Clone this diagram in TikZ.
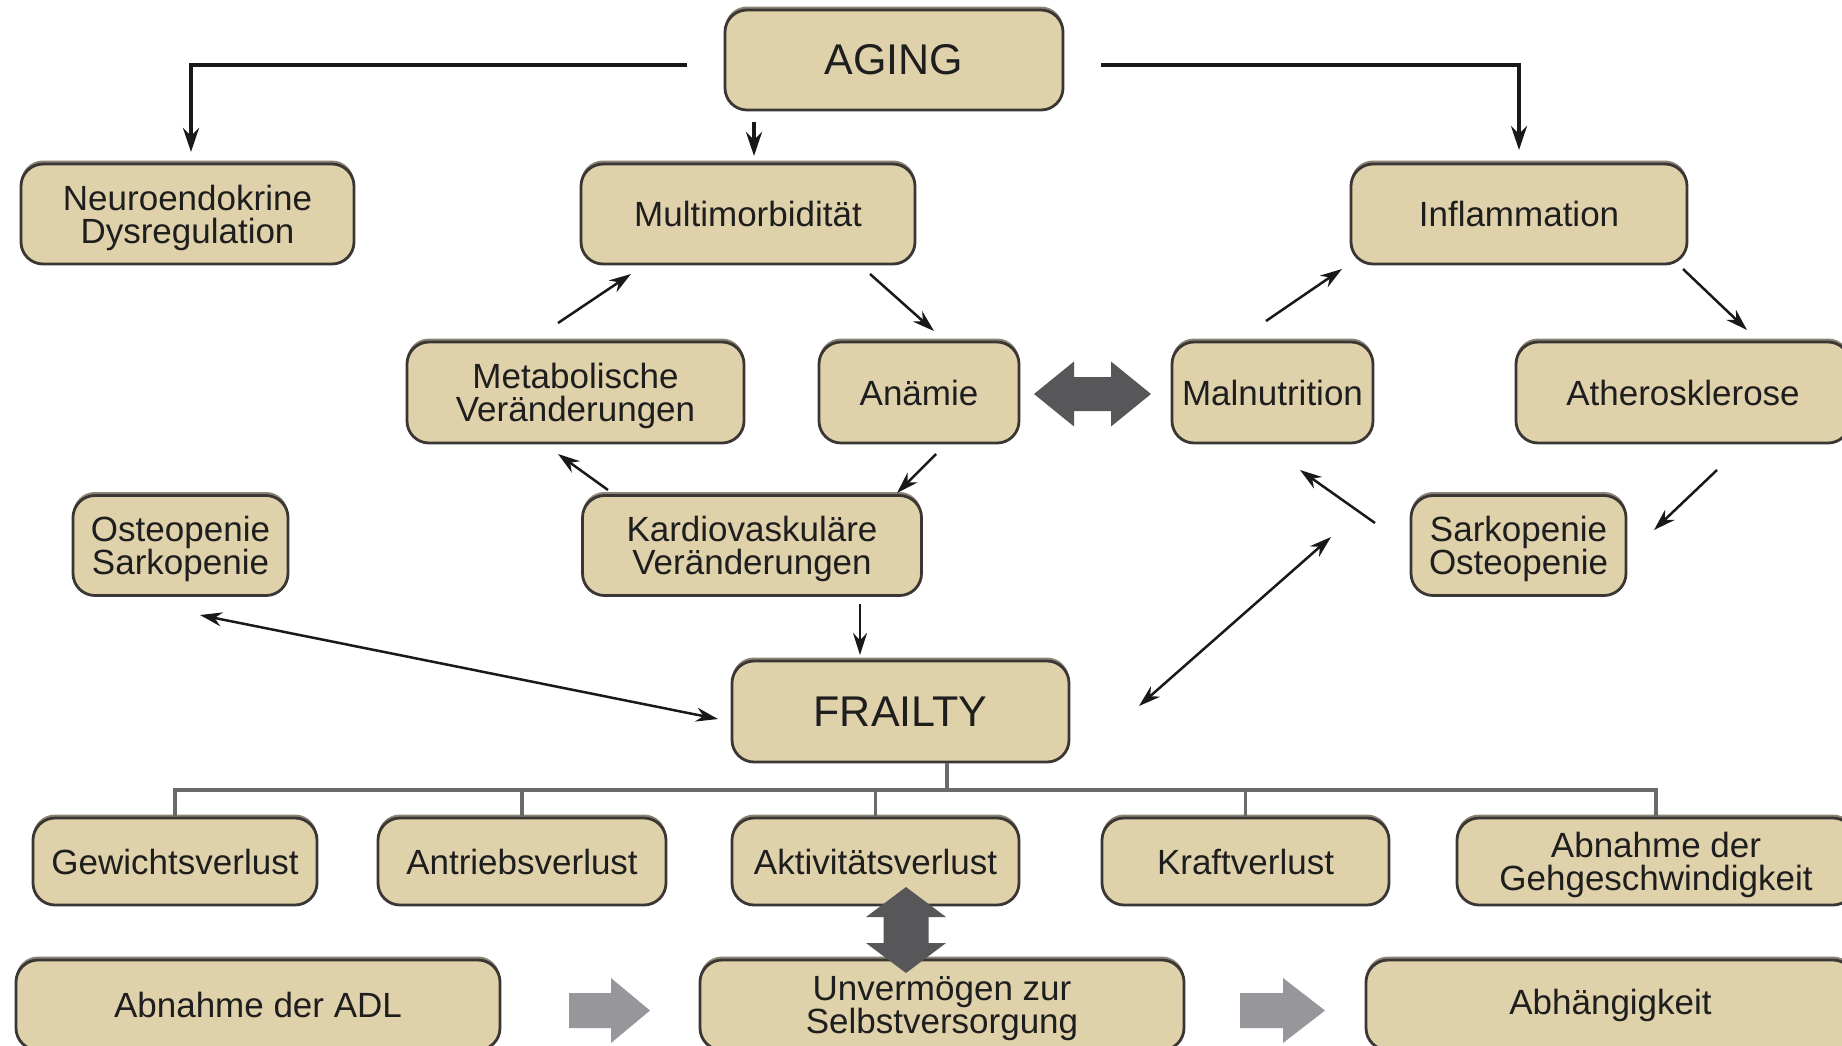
\documentclass[tikz,border=0pt]{standalone}
\usepackage{fontspec}
\setmainfont{Liberation Sans}
\usetikzlibrary{arrows.meta,shadows}
\definecolor{boxfill}{HTML}{DFD1AA}
\definecolor{boxline}{HTML}{3A3633}
\definecolor{shade}{HTML}{8C8475}
\definecolor{txt}{HTML}{1E1E1E}
\definecolor{bigarrow}{HTML}{57575A}
\definecolor{blockarrow}{HTML}{97979B}
\definecolor{treeline}{HTML}{6A6A6A}
\tikzset{
  box/.style={draw=boxline, line width=2.8pt, fill=boxfill, rounded corners=22pt,
    inner sep=0pt, align=center, text=txt, font=\fontsize{35}{33}\selectfont,
    drop shadow={shadow xshift=0pt, shadow yshift=3.5pt, fill=shade, opacity=1}},
  twoline/.style={text depth=-3pt},
  bigtext/.style={font=\fontsize{43}{46}\selectfont},
  arr/.style={line width=2.5pt, draw=black!90, -{Stealth[length=22pt,width=14pt]}},
  darr/.style={line width=2.5pt, draw=black!90, {Stealth[length=22pt,width=14pt]}-{Stealth[length=22pt,width=14pt]}},
  toparr/.style={line width=4pt, draw=black!90, -{Stealth[length=24pt,width=16pt]}},
  tree/.style={line width=3.5pt, draw=treeline},
}
\begin{document}
\begin{tikzpicture}[x=1pt,y=-1pt]
\useasboundingbox (0,0) rectangle (1842,1045);
\fill[white] (0,0) rectangle (1842,1045);
\clip (0,0) rectangle (1842,1045);

% nodes
\node[box,bigtext,minimum width=338pt,minimum height=100pt] (aging) at (894,60) {AGING};
\node[box,twoline,minimum width=333pt,minimum height=100pt] (neuro) at (187.5,214) {Neuroendokrine\\Dysregulation};
\node[box,minimum width=334pt,minimum height=100pt] (multi) at (748,214) {Multimorbidität};
\node[box,minimum width=336pt,minimum height=100pt] (infl) at (1519,214) {Inflammation};
\node[box,twoline,minimum width=337pt,minimum height=101pt] (meta) at (575.5,392.5) {Metabolische\\Veränderungen};
\node[box,minimum width=200pt,minimum height=101pt] (anae) at (919,392.5) {Anämie};
\node[box,minimum width=201pt,minimum height=101pt] (maln) at (1272.5,392.5) {Malnutrition};
\node[box,minimum width=334pt,minimum height=101pt] (athe) at (1683,392.5) {Atherosklerose};
\node[box,twoline,minimum width=215pt,minimum height=100pt] (osteo) at (180.5,545.5) {Osteopenie\\Sarkopenie};
\node[box,twoline,minimum width=339pt,minimum height=100pt] (kardio) at (752,545.5) {Kardiovaskuläre\\Veränderungen};
\node[box,twoline,minimum width=215pt,minimum height=100pt] (sarko) at (1518.5,545.5) {Sarkopenie\\Osteopenie};
\node[box,bigtext,minimum width=337pt,minimum height=101pt] (frailty) at (900.5,711.5) {FRAILTY};

\node[box,minimum width=284pt,minimum height=87pt] (gew) at (175,861.5) {Gewichtsverlust};
\node[box,minimum width=288pt,minimum height=87pt] (antr) at (522,861.5) {Antriebsverlust};
\node[box,minimum width=287pt,minimum height=87pt] (akti) at (875.5,861.5) {Aktivitätsverlust};
\node[box,minimum width=287pt,minimum height=87pt] (kraft) at (1245.5,861.5) {Kraftverlust};
\node[box,twoline,minimum width=398pt,minimum height=87pt] (gehg) at (1656,861.5) {Abnahme der\\Gehgeschwindigkeit};

\node[box,minimum width=484pt,minimum height=90pt] (adl) at (258,1005) {Abnahme der ADL};
\node[box,twoline,minimum width=484pt,minimum height=90pt] (unv) at (942,1005) {Unvermögen zur\\Selbstversorgung};
\node[box,minimum width=489pt,minimum height=90pt] (abh) at (1610.5,1005) {Abhängigkeit};

% connector end points
\coordinate (agL) at (687,65);
\coordinate (neuroT) at (191,152);
\coordinate (agR) at (1101,65);
\coordinate (inflT) at (1519,150);
\coordinate (agD1) at (754,122);
\coordinate (agD2) at (754,156);
\coordinate (me1) at (558,323);
\coordinate (me2) at (631,274);
\coordinate (mu1) at (870,274);
\coordinate (mu2) at (934,331);
\coordinate (ka1) at (608,490);
\coordinate (ka2) at (558,454);
\coordinate (an1) at (936,454);
\coordinate (an2) at (897,493);
\coordinate (ma1) at (1266,321);
\coordinate (ma2) at (1342,269);
\coordinate (in1) at (1683,269);
\coordinate (in2) at (1747,330);
\coordinate (at1) at (1717,470);
\coordinate (at2) at (1654,530);
\coordinate (sa1) at (1375,523);
\coordinate (sa2) at (1300,470);
\coordinate (fs1) at (1139,706);
\coordinate (fs2) at (1331,537);
\coordinate (of1) at (200,615);
\coordinate (of2) at (718,719);
\coordinate (kf1) at (860,604);
\coordinate (kf2) at (860,655);
\coordinate (tj) at (947,790);

% connectors from AGING
\draw[toparr] (agL) -| (neuroT);
\draw[toparr] (agR) -| (inflT);
\draw[toparr] (agD1) -- (agD2);

% small arrows
\draw[arr] (me1) -- (me2);
\draw[arr] (mu1) -- (mu2);
\draw[arr] (ka1) -- (ka2);
\draw[arr] (an1) -- (an2);
\draw[arr] (ma1) -- (ma2);
\draw[arr] (in1) -- (in2);
\draw[arr] (at1) -- (at2);
\draw[arr] (sa1) -- (sa2);
\draw[darr] (fs1) -- (fs2);
\draw[darr] (of1) -- (of2);
\draw[arr] (kf1) -- (kf2);

% tree below FRAILTY
\draw[tree] (frailty.south -| tj) -- (tj);
\draw[tree] (gew.north) |- (tj) -| (gehg.north);
\draw[tree] (antr.north) -- (antr.north |- tj);
\draw[tree] (akti.north) -- (akti.north |- tj);
\draw[tree] (kraft.north) -- (kraft.north |- tj);

% big dark double arrows
\fill[bigarrow] (1034,394) -- (1074,361.5) -- (1074,377) -- (1111,377) -- (1111,361.5)
  -- (1151,394) -- (1111,426.5) -- (1111,411) -- (1074,411) -- (1074,426.5) -- cycle;
\fill[bigarrow] (906,887) -- (946,917) -- (928.5,917) -- (928.5,943) -- (946,943)
  -- (906,973) -- (866,943) -- (883.5,943) -- (883.5,917) -- (866,917) -- cycle;

% gray block arrows
\fill[blockarrow] (569,993) -- (611,993) -- (611,978) -- (650,1010.5) -- (611,1043)
  -- (611,1028) -- (569,1028) -- cycle;
\fill[blockarrow] (1240,993) -- (1283,993) -- (1283,978) -- (1325,1010.5) -- (1283,1043)
  -- (1283,1028) -- (1240,1028) -- cycle;
\end{tikzpicture}
\end{document}
